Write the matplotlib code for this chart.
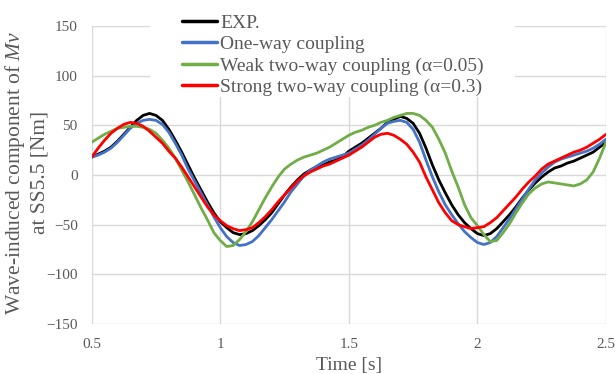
import matplotlib
matplotlib.use("Agg")
import matplotlib.pyplot as plt
from matplotlib.patches import Rectangle

# --- Data (time [s] vs moment [Nm]) ---
time = [0.500, 0.525, 0.550, 0.575, 0.600, 0.625, 0.650, 0.675, 0.700, 0.725,
        0.750, 0.775, 0.800, 0.825, 0.850, 0.875, 0.900, 0.925, 0.950, 0.975,
        1.000, 1.025, 1.050, 1.075, 1.100, 1.125, 1.150, 1.175, 1.200, 1.225,
        1.250, 1.275, 1.300, 1.325, 1.350, 1.375, 1.400, 1.425, 1.450, 1.475,
        1.500, 1.525, 1.550, 1.575, 1.600, 1.625, 1.650, 1.675, 1.700, 1.725,
        1.750, 1.775, 1.800, 1.825, 1.850, 1.875, 1.900, 1.925, 1.950, 1.975,
        2.000, 2.025, 2.050, 2.075, 2.100, 2.125, 2.150, 2.175, 2.200, 2.225,
        2.250, 2.275, 2.300, 2.325, 2.350, 2.375, 2.400, 2.425, 2.450, 2.475,
        2.500]

exp = [18, 21, 24, 28, 34, 41, 48, 55, 60, 62, 60, 55, 46, 35, 23, 10, -3, -15, -27, -38, -47,
       -53, -58, -60, -59, -56, -51, -45, -38, -29, -20, -12, -5, 1, 5, 8, 10, 13, 15, 18, 24,
       28, 32, 37, 42, 47, 53, 56, 59, 57, 52, 42, 27, 10, -5, -18, -30, -40, -48, -54, -59,
       -61, -59, -54, -47, -40, -32, -23, -15, -8, -2, 3, 7, 9, 12, 14, 17, 20, 23, 28, 33]

one_way = [18, 20, 23, 27, 33, 40, 47, 52, 55, 56, 55, 51, 43, 32, 20, 6, -6, -18, -30, -42, -53,
           -62, -68, -71, -70, -67, -61, -53, -45, -36, -27, -17, -9, -1, 5, 9, 13, 16, 18, 20, 22,
           26, 30, 35, 41, 47, 52, 54, 55, 53, 46, 33, 15, -2, -17, -30, -40, -49, -57, -63, -68,
           -70, -68, -62, -53, -44, -34, -24, -14, -5, 2, 8, 13, 16, 18, 20, 22, 24, 27, 31, 36]

weak = [33, 37, 41, 44, 47, 48, 49, 49, 48, 46, 42, 35, 27, 17, 5, -7, -20, -33, -45, -58, -66,
        -72, -71, -65, -57, -47, -35, -23, -12, -2, 6, 11, 15, 18, 20, 22, 25, 28, 32, 36, 40,
        43, 45, 48, 50, 53, 55, 58, 60, 62, 62, 60, 55, 48, 36, 22, 4, -12, -30, -43, -51,
        -60, -67, -66, -58, -49, -38, -28, -19, -13, -9, -7, -8, -9, -10, -11, -9, -5, 3, 17, 33]

strong = [18, 27, 35, 42, 47, 51, 53, 52, 49, 44, 38, 32, 24, 17, 8, -2, -12, -22, -32, -40, -46,
          -51, -54, -56, -55, -53, -48, -42, -35, -27, -20, -13, -6, -1, 3, 6, 9, 11, 14, 17, 20,
          24, 28, 33, 38, 41, 42, 40, 36, 31, 23, 13, -2, -15, -28, -38, -46, -50, -52, -54, -53,
          -52, -48, -43, -36, -29, -22, -14, -7, -1, 6, 11, 14, 17, 20, 23, 25, 28, 32, 36, 41]

labels = ["EXP.", "One-way coupling", "Weak two-way coupling (\u03b1=0.05)",
          "Strong two-way coupling (\u03b1=0.3)"]
colors = ["#000000", "#4472C4", "#70AD47", "#FF0000"]

plt.rcParams['font.family'] = ['Liberation Serif', 'DejaVu Serif']
plt.rcParams['mathtext.fontset'] = 'custom'
plt.rcParams['mathtext.it'] = 'Liberation Serif:italic'
plt.rcParams['mathtext.rm'] = 'Liberation Serif'

grey = "#595959"

fig = plt.figure(figsize=(6.16, 3.74), dpi=100)
ax = fig.add_axes([91.7 / 616, 50 / 374, 514.3 / 616, 298 / 374])

for series, lab, col in zip([exp, one_way, weak, strong], labels, colors):
    ax.plot(time, series, color=col, lw=2.0, label=lab, zorder=3,
            solid_joinstyle="round", solid_capstyle="round")

ax.set_xlim(0.5, 2.5)
ax.set_ylim(-150, 150)
ax.set_xticks([0.5, 1, 1.5, 2, 2.5])
ax.set_xticklabels(["0.5", "1", "1.5", "2", "2.5"])
ax.set_yticks(range(-150, 151, 50))
ax.grid(True, color="#D9D9D9", lw=1.0, zorder=0)
ax.set_axisbelow(True)
for s in ax.spines.values():
    s.set_visible(False)
ax.tick_params(length=0, labelsize=11, colors=grey)
ax.tick_params(axis='x', pad=10)
ax.tick_params(axis='y', pad=10)

ax.set_xlabel("Time [s]", fontsize=14, color=grey)
ax.xaxis.set_label_coords(0.5, -0.112)
ax.set_ylabel("Wave-induced component of $Mv$\nat SS5.5 [Nm]", fontsize=15.5,
              color=grey, linespacing=1.2)
ax.yaxis.set_label_coords(-0.083, 0.508)

# white legend area hiding gridlines (as in the original chart)
ax.add_patch(Rectangle((150 / 616, 1 - 97 / 374), 365 / 616, 97 / 374,
                       transform=fig.transFigure, facecolor="white",
                       edgecolor="none", zorder=1, clip_on=False))

leg = ax.legend(loc="upper left", bbox_to_anchor=(182 / 616, 1 - 14 / 374),
                bbox_transform=fig.transFigure, frameon=False, fontsize=14,
                handlelength=1.8, handletextpad=0.15, labelspacing=0.2,
                borderpad=0, borderaxespad=0)
for h in leg.get_lines():
    h.set_linewidth(2.5)
for t in leg.get_texts():
    t.set_color(grey)

fig.savefig("out.png", dpi=100)
